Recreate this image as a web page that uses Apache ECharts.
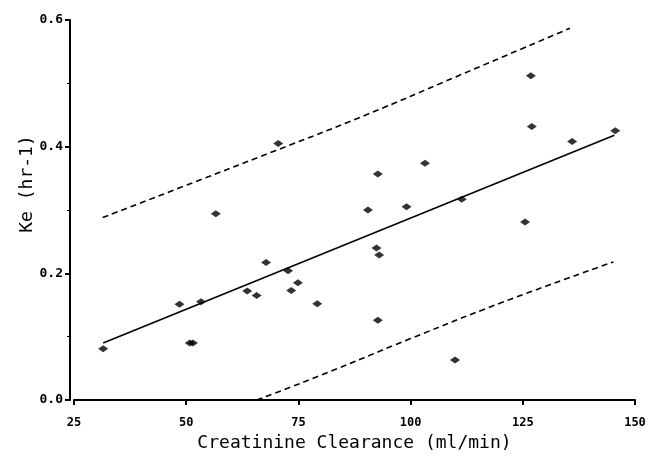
<!DOCTYPE html>
<html lang="en">
<head>
    <meta charset="UTF-8">
    <script src="https://cdn.jsdelivr.net/npm/echarts@6/dist/echarts.min.js"></script>
    <title>Ke vs Creatinine Clearance</title>
    <style>
        html, body { margin: 0; padding: 0; background: #fff; }
    </style>
</head>
<body>
<div id="main" style="width: 657px;height:461px;"></div>
<script type="text/javascript">
    // observed points: creatinine clearance (ml/min) and Ke (hr-1)
    var clearance = [31.5, 48.5, 53.3, 50.8, 51.5, 56.6, 63.6, 65.7, 67.8, 70.5,
                     72.7, 73.4, 74.9, 79.2, 90.5, 92.7, 92.4, 93.0, 92.7, 99.1,
                     103.2, 111.4, 109.9, 125.5, 126.8, 127.0, 136.0, 145.6];
    var ke = [0.081, 0.151, 0.155, 0.090, 0.090, 0.294, 0.172, 0.165, 0.217, 0.405,
              0.204, 0.173, 0.185, 0.152, 0.300, 0.357, 0.240, 0.229, 0.126, 0.305,
              0.374, 0.317, 0.063, 0.281, 0.512, 0.432, 0.408, 0.425];

    // regression line
    var fitX = [31.5, 145.4];
    var fitY = [0.090, 0.418];

    // upper and lower dashed bands
    var upperX = [31.4, 50, 70, 90, 110, 135.5];
    var upperY = [0.288, 0.339, 0.394, 0.450, 0.510, 0.587];
    var lowerX = [65.7, 80, 100, 120, 145.2];
    var lowerY = [0.0, 0.039, 0.097, 0.153, 0.218];

    var xTicks = [25, 50, 75, 100, 125, 150];
    var yTicks = [0.0, 0.2, 0.4, 0.6];

    function pairs(xs, ys) {
        return xs.map(function (x, i) { return [x, ys[i]]; });
    }

    var myChart = echarts.init(document.getElementById('main'));

    var option = {
        animation: false,
        backgroundColor: '#fff',
        grid: { left: 74, right: 22, top: 20, bottom: 61 },
        xAxis: {
            type: 'value',
            min: xTicks[0],
            max: xTicks[xTicks.length - 1],
            interval: 25,
            offset: 6,
            name: 'Creatinine Clearance (ml/min)',
            nameLocation: 'middle',
            nameGap: 28,
            nameTextStyle: { color: '#000', fontFamily: 'DejaVu Sans Mono', fontSize: 18 },
            axisLine: { lineStyle: { color: '#000', width: 2 } },
            axisTick: { inside: false, length: 5, lineStyle: { color: '#000', width: 2 } },
            axisLabel: {
                margin: 11, color: '#000', fontFamily: 'DejaVu Sans Mono',
                fontWeight: 'bold', fontSize: 12
            },
            splitLine: { show: false }
        },
        yAxis: {
            type: 'value',
            min: yTicks[0],
            max: yTicks[yTicks.length - 1],
            interval: 0.2,
            offset: 4,
            name: 'Ke (hr-1)',
            nameLocation: 'middle',
            nameGap: 34,
            nameMoveOverlap: false,
            // the title sits a bit above the middle of the axis
            nameTextStyle: {
                color: '#000', fontFamily: 'DejaVu Sans Mono', fontSize: 18,
                padding: [0, 0, 0, 52]
            },
            axisLine: { show: true, lineStyle: { color: '#000', width: 2 } },
            axisTick: { show: true, length: 5, lineStyle: { color: '#000', width: 2 } },
            minorTick: { show: true, splitNumber: 2, length: 3, lineStyle: { color: '#000', width: 1 } },
            axisLabel: {
                margin: 7, color: '#000', fontFamily: 'DejaVu Sans Mono',
                fontWeight: 'bold', fontSize: 13,
                formatter: function (v) { return v.toFixed(1); }
            },
            splitLine: { show: false }
        },
        series: [
            {
                type: 'line',
                data: pairs(upperX, upperY),
                smooth: true,
                symbol: 'none',
                lineStyle: { color: '#000', width: 1.6, type: [6, 4] }
            },
            {
                type: 'line',
                data: pairs(lowerX, lowerY),
                smooth: true,
                symbol: 'none',
                lineStyle: { color: '#000', width: 1.6, type: [6, 4] }
            },
            {
                type: 'line',
                data: pairs(fitX, fitY),
                symbol: 'none',
                lineStyle: { color: '#000', width: 1.6 }
            },
            {
                type: 'scatter',
                data: pairs(clearance, ke),
                symbol: 'diamond',
                symbolSize: [10, 7],
                itemStyle: { color: '#000' }
            }
        ]
    };

    myChart.setOption(option);
</script>
</body>
</html>
